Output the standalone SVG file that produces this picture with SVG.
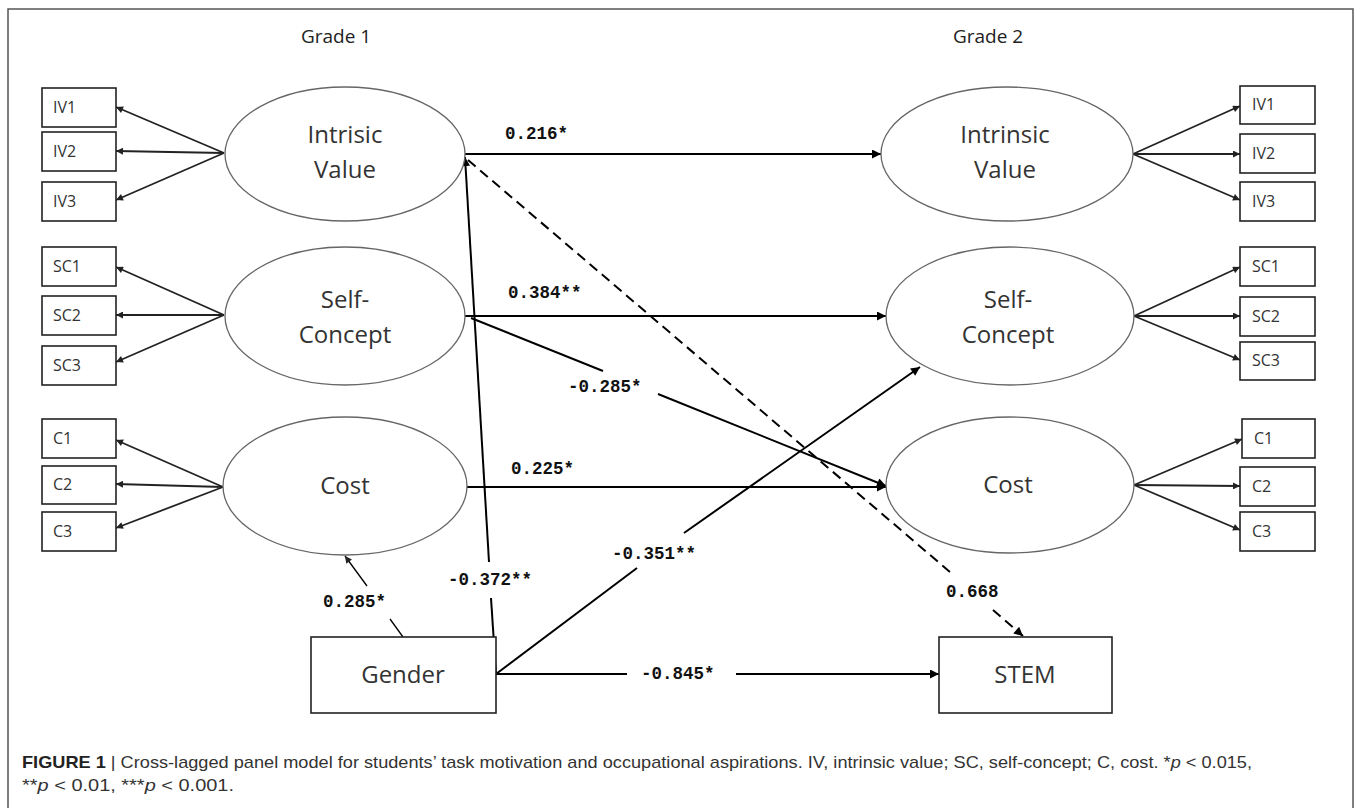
<svg xmlns="http://www.w3.org/2000/svg" width="1358" height="808" viewBox="0 0 1358 808">
<style>
.frame{fill:none;stroke:#555;stroke-width:1.5}
.box{fill:#fff;stroke:#222;stroke-width:1.6}
.ell{fill:#fff;stroke:#666;stroke-width:1.3}
.ind{font-family:"Open Sans","Liberation Sans",sans-serif;font-size:16px;fill:#333}
.lat{font-family:"Open Sans","Liberation Sans",sans-serif;font-size:24px;fill:#333;text-anchor:middle}
.grade{font-family:"Open Sans","Liberation Sans",sans-serif;font-size:19px;fill:#222;text-anchor:middle}
.path{fill:none;stroke:#000;stroke-width:2}
.load{fill:none;stroke:#222;stroke-width:1.8}
.thin{fill:none;stroke:#000;stroke-width:1.3}
.dash{fill:none;stroke:#000;stroke-width:2;stroke-dasharray:10 6}
.coef{font-family:"Liberation Mono","Courier New",monospace;font-weight:bold;font-size:17.5px;fill:#111}
.cap{font-family:"Liberation Sans",Arial,sans-serif;font-size:17px;fill:#333}
</style>
<defs>
<marker id="ah" viewBox="0 0 10 10" refX="10" refY="5" markerWidth="11" markerHeight="9" markerUnits="userSpaceOnUse" orient="auto"><path d="M0,0 L10,5 L0,10 z" fill="#000"/></marker>
<marker id="ahs" viewBox="0 0 10 10" refX="10" refY="5" markerWidth="9" markerHeight="7" markerUnits="userSpaceOnUse" orient="auto"><path d="M0,0 L10,5 L0,10 z" fill="#222"/></marker>
</defs>
<rect class="frame" x="8" y="9" width="1345" height="810"/>
<text class="grade" x="336" y="43">Grade 1</text>
<text class="grade" x="988" y="43">Grade 2</text>

<g id="connectors">
<path class="load" d="M224,153 L116,107" marker-end="url(#ahs)"/>
<path class="load" d="M224,153 L116,151" marker-end="url(#ahs)"/>
<path class="load" d="M224,153 L116,200" marker-end="url(#ahs)"/>
<path class="load" d="M224,315 L116,267" marker-end="url(#ahs)"/>
<path class="load" d="M224,315 L116,315" marker-end="url(#ahs)"/>
<path class="load" d="M224,315 L116,362" marker-end="url(#ahs)"/>
<path class="load" d="M223,487 L116,440" marker-end="url(#ahs)"/>
<path class="load" d="M223,487 L116,484" marker-end="url(#ahs)"/>
<path class="load" d="M223,487 L116,528" marker-end="url(#ahs)"/>
<path class="load" d="M1133,154 L1240,106" marker-end="url(#ahs)"/>
<path class="load" d="M1133,154 L1240,154" marker-end="url(#ahs)"/>
<path class="load" d="M1133,154 L1240,200" marker-end="url(#ahs)"/>
<path class="load" d="M1134,316 L1240,267" marker-end="url(#ahs)"/>
<path class="load" d="M1134,316 L1240,316" marker-end="url(#ahs)"/>
<path class="load" d="M1134,316 L1240,360" marker-end="url(#ahs)"/>
<path class="load" d="M1134,485 L1242,439" marker-end="url(#ahs)"/>
<path class="load" d="M1134,485 L1240,486" marker-end="url(#ahs)"/>
<path class="load" d="M1134,485 L1240,530" marker-end="url(#ahs)"/>

<path class="path" d="M465,154 L881,154" marker-end="url(#ah)"/>
<text class="coef" x="505" y="139">0.216*</text>
<path class="path" d="M465,316 L886,316" marker-end="url(#ah)"/>
<text class="coef" x="508" y="298">0.384**</text>
<path class="path" d="M471,318 L603,371"/>
<path class="path" d="M658,394 L886,486" marker-end="url(#ah)"/>
<text class="coef" x="568" y="392">-0.285*</text>
<path class="path" d="M467,487 L886,487" marker-end="url(#ah)"/>
<text class="coef" x="511" y="474">0.225*</text>
<path class="path" d="M496,674 L491,598"/>
<path class="path" d="M489,562 L465,157" marker-end="url(#ah)"/>
<text class="coef" x="490" y="585" text-anchor="middle">-0.372**</text>
<path class="path" d="M496,674 L637,568"/>
<path class="path" d="M684,533 L920,367" marker-end="url(#ah)"/>
<text class="coef" x="612" y="559">-0.351**</text>
<path class="path" d="M496,674 L627,674"/>
<path class="path" d="M736,674 L939,674" marker-end="url(#ah)"/>
<text class="coef" x="641" y="679">-0.845*</text>
<path class="thin" d="M403,637 L390,619"/>
<path class="thin" d="M367,586 L345,556" marker-end="url(#ahs)"/>
<text class="coef" x="323" y="607">0.285*</text>
<path class="dash" d="M468,160 L950,572"/>
<path class="dash" d="M993,610 L1023,636" marker-end="url(#ah)"/>
<text class="coef" x="946" y="597">0.668</text>
</g>

<g id="iv1-g1"><rect class="box" x="42" y="88" width="74" height="39"/><text class="ind" x="53" y="113">IV1</text></g>
<g id="iv2-g1"><rect class="box" x="42" y="132" width="74" height="39"/><text class="ind" x="53" y="157">IV2</text></g>
<g id="iv3-g1"><rect class="box" x="42" y="182" width="74" height="39"/><text class="ind" x="53" y="207">IV3</text></g>
<g id="sc1-g1"><rect class="box" x="42" y="247" width="74" height="39"/><text class="ind" x="53" y="272">SC1</text></g>
<g id="sc2-g1"><rect class="box" x="42" y="296" width="74" height="39"/><text class="ind" x="53" y="321">SC2</text></g>
<g id="sc3-g1"><rect class="box" x="42" y="346" width="74" height="39"/><text class="ind" x="53" y="371">SC3</text></g>
<g id="c1-g1"><rect class="box" x="42" y="419" width="74" height="39"/><text class="ind" x="53" y="444">C1</text></g>
<g id="c2-g1"><rect class="box" x="42" y="466" width="74" height="38"/><text class="ind" x="53" y="490">C2</text></g>
<g id="c3-g1"><rect class="box" x="42" y="512" width="74" height="39"/><text class="ind" x="53" y="537">C3</text></g>

<g id="iv-g1"><ellipse class="ell" cx="345" cy="154" rx="120" ry="67"/><text class="lat" x="345" y="143">Intrisic</text><text class="lat" x="345" y="178">Value</text></g>
<g id="sc-g1"><ellipse class="ell" cx="345" cy="316" rx="120" ry="69"/><text class="lat" x="345" y="308">Self-</text><text class="lat" x="345" y="343">Concept</text></g>
<g id="cost-g1"><ellipse class="ell" cx="345" cy="486" rx="122" ry="69"/><text class="lat" x="345" y="494">Cost</text></g>

<g id="iv-g2"><ellipse class="ell" cx="1007" cy="154" rx="126" ry="67"/><text class="lat" x="1005" y="143">Intrinsic</text><text class="lat" x="1005" y="178">Value</text></g>
<g id="sc-g2"><ellipse class="ell" cx="1010" cy="316" rx="124" ry="69"/><text class="lat" x="1008" y="308">Self-</text><text class="lat" x="1008" y="343">Concept</text></g>
<g id="cost-g2"><ellipse class="ell" cx="1010" cy="485" rx="124" ry="68"/><text class="lat" x="1008" y="493">Cost</text></g>

<g id="iv1-g2"><rect class="box" x="1240" y="86" width="75" height="38"/><text class="ind" x="1252" y="110">IV1</text></g>
<g id="iv2-g2"><rect class="box" x="1240" y="134" width="75" height="39"/><text class="ind" x="1252" y="159">IV2</text></g>
<g id="iv3-g2"><rect class="box" x="1240" y="182" width="75" height="39"/><text class="ind" x="1252" y="207">IV3</text></g>
<g id="sc1-g2"><rect class="box" x="1240" y="247" width="75" height="39"/><text class="ind" x="1252" y="272">SC1</text></g>
<g id="sc2-g2"><rect class="box" x="1240" y="297" width="75" height="39"/><text class="ind" x="1252" y="322">SC2</text></g>
<g id="sc3-g2"><rect class="box" x="1240" y="342" width="75" height="38"/><text class="ind" x="1252" y="366">SC3</text></g>
<g id="c1-g2"><rect class="box" x="1242" y="419" width="73" height="39"/><text class="ind" x="1254" y="444">C1</text></g>
<g id="c2-g2"><rect class="box" x="1240" y="467" width="75" height="39"/><text class="ind" x="1252" y="492">C2</text></g>
<g id="c3-g2"><rect class="box" x="1240" y="512" width="75" height="39"/><text class="ind" x="1252" y="537">C3</text></g>

<g id="gender"><rect class="box" x="311" y="637" width="185" height="76"/><text class="lat" x="403" y="683">Gender</text></g>
<g id="stem"><rect class="box" x="939" y="637" width="173" height="76"/><text class="lat" x="1025" y="683">STEM</text></g>

<text class="cap" x="22" y="768" textLength="1230" lengthAdjust="spacingAndGlyphs"><tspan font-weight="bold" fill="#222">FIGURE 1</tspan> | Cross-lagged panel model for students’ task motivation and occupational aspirations. IV, intrinsic value; SC, self-concept; C, cost. *<tspan font-style="italic">p</tspan> &lt; 0.015,</text>
<text class="cap" x="22" y="791" textLength="212" lengthAdjust="spacingAndGlyphs">**<tspan font-style="italic">p</tspan> &lt; 0.01, ***<tspan font-style="italic">p</tspan> &lt; 0.001.</text>
</svg>
